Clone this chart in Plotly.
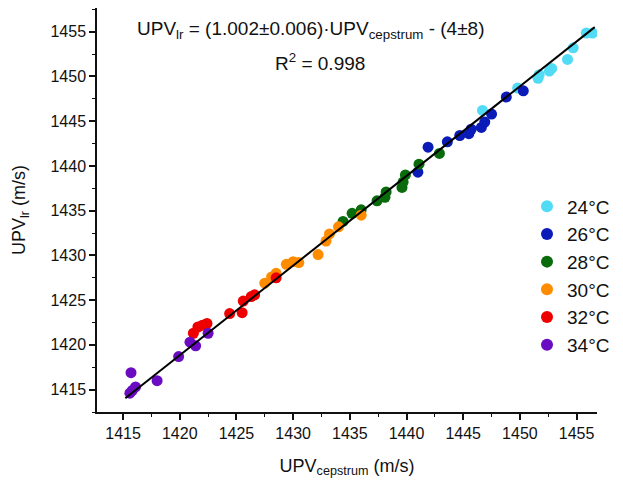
import plotly.graph_objects as go
import numpy as np

# ---- data (UPV_cepstrum, UPV_lr) per temperature ----
labels = ["24°C", "26°C", "28°C", "30°C", "32°C", "34°C"]
colors = ["#52DBF4", "#0A1BB8", "#0A6B0C", "#FF8C00", "#EE0000", "#6A0DC2"]

x_24 = [1446.7, 1449.8, 1451.6, 1451.7, 1452.6, 1452.8, 1454.2, 1454.7, 1455.85, 1456.4]
y_24 = [1446.2, 1448.7, 1449.8, 1450.2, 1450.6, 1450.9, 1451.9, 1453.2, 1454.85, 1454.85]

x_26 = [1441.0, 1441.9, 1443.6, 1444.7, 1445.5, 1445.7, 1446.6, 1446.9, 1447.5, 1448.8, 1450.3]
y_26 = [1439.3, 1442.1, 1442.7, 1443.4, 1443.6, 1444.1, 1444.3, 1444.9, 1445.8, 1447.7, 1448.4]

x_28 = [1434.4, 1435.2, 1436.0, 1437.4, 1438.1, 1438.2, 1439.6, 1439.7, 1439.9, 1441.1, 1442.9]
y_28 = [1433.8, 1434.7, 1435.1, 1436.1, 1436.5, 1437.1, 1437.6, 1438.2, 1439.0, 1440.2, 1441.4]

x_30 = [1427.5, 1428.1, 1428.5, 1429.4, 1430.0, 1430.5, 1432.2, 1432.9, 1433.2, 1434.0, 1436.0]
y_30 = [1426.9, 1427.6, 1428.0, 1429.0, 1429.3, 1429.2, 1430.1, 1431.6, 1432.4, 1433.2, 1434.5]

x_32 = [1421.2, 1421.6, 1422.0, 1422.4, 1424.4, 1425.5, 1425.6, 1426.3, 1426.6, 1428.5]
y_32 = [1421.3, 1422.0, 1422.2, 1422.4, 1423.5, 1423.6, 1424.9, 1425.4, 1425.6, 1427.5]

x_34 = [1415.6, 1415.8, 1416.1, 1415.7, 1418.0, 1419.9, 1420.9, 1421.4, 1422.5]
y_34 = [1414.6, 1414.9, 1415.3, 1416.9, 1416.0, 1418.7, 1420.3, 1419.9, 1421.3]

# linear fit parameters from the annotation
slope = 1.002
intercept = -4.0
fit_x_range = [1415.2, 1456.6]

tick_vals = [1415, 1420, 1425, 1430, 1435, 1440, 1445, 1450, 1455]

xs = [x_24, x_26, x_28, x_30, x_32, x_34]
ys = [y_24, y_26, y_28, y_30, y_32, y_34]

FONT = "Liberation Sans, Arial, sans-serif"

fig = go.Figure()
for i, (lab, c, xv, yv) in enumerate(zip(labels, colors, xs, ys)):
    fig.add_trace(go.Scatter(
        x=xv, y=yv, mode="markers", name=lab, legendgroup=lab,
        marker=dict(color=c, size=11, line=dict(width=0)),
    ))

fx = np.array(fit_x_range)
fig.add_trace(go.Scatter(
    x=fx, y=slope * fx + intercept, mode="lines",
    line=dict(color="black", width=2), showlegend=False, hoverinfo="skip",
))

axis_common = dict(
    showline=True, linecolor="#111", linewidth=1.5,
    ticks="outside", ticklen=6, tickwidth=1.5, tickcolor="#111",
    showgrid=False, zeroline=False, mirror=False,
    tickmode="array", tickvals=tick_vals,
    tickfont=dict(family=FONT, size=16, color="#111"),
    minor=dict(ticks="outside", ticklen=3.5, tickwidth=1.2, tickcolor="#111",
               dtick=2.5, tick0=1412.5, showgrid=False),
)

fig.update_layout(
    width=623, height=485,
    margin=dict(l=97, r=26, t=8, b=73),
    paper_bgcolor="white", plot_bgcolor="white",
    font=dict(family=FONT, size=16, color="#111"),
    xaxis=dict(range=[1412.7, 1456.8],
               title=dict(text="UPV<sub>cepstrum</sub> (m/s)",
                          font=dict(family=FONT, size=18, color="#111"), standoff=18),
               **axis_common),
    yaxis=dict(range=[1412.5, 1457.65],
               title=dict(text="UPV<sub>lr</sub> (m/s)",
                          font=dict(family=FONT, size=18, color="#111"), standoff=20),
               **axis_common),
    legend=dict(x=0.86, y=0.556, xanchor="left", yanchor="top",
                font=dict(family=FONT, size=19, color="#111"),
                bgcolor="rgba(0,0,0,0)", tracegroupgap=0, itemsizing="constant"),
    showlegend=True,
    annotations=[
        dict(text="UPV<sub>lr</sub> = (1.002±0.006)·UPV<sub>cepstrum</sub> - (4±8)",
             x=311, y=30, showarrow=False,
             font=dict(family=FONT, size=19, color="#111")),
        dict(text="R<sup>2</sup> = 0.998",
             x=320, y=62, showarrow=False,
             font=dict(family=FONT, size=19, color="#111")),
    ],
)

# convert annotation pixel positions to paper coords
W, H = 623, 485
l, r, t, b = 97, 26, 8, 73
pw, ph = W - l - r, H - t - b
new_ann = []
for a in fig.layout.annotations:
    px, py = a.x, a.y
    a.update(xref="paper", yref="paper",
             x=(px - l) / pw, y=1 - (py - t) / ph,
             xanchor="center", yanchor="middle")
    new_ann.append(a)
fig.layout.annotations = new_ann

fig.write_html("out.html")
